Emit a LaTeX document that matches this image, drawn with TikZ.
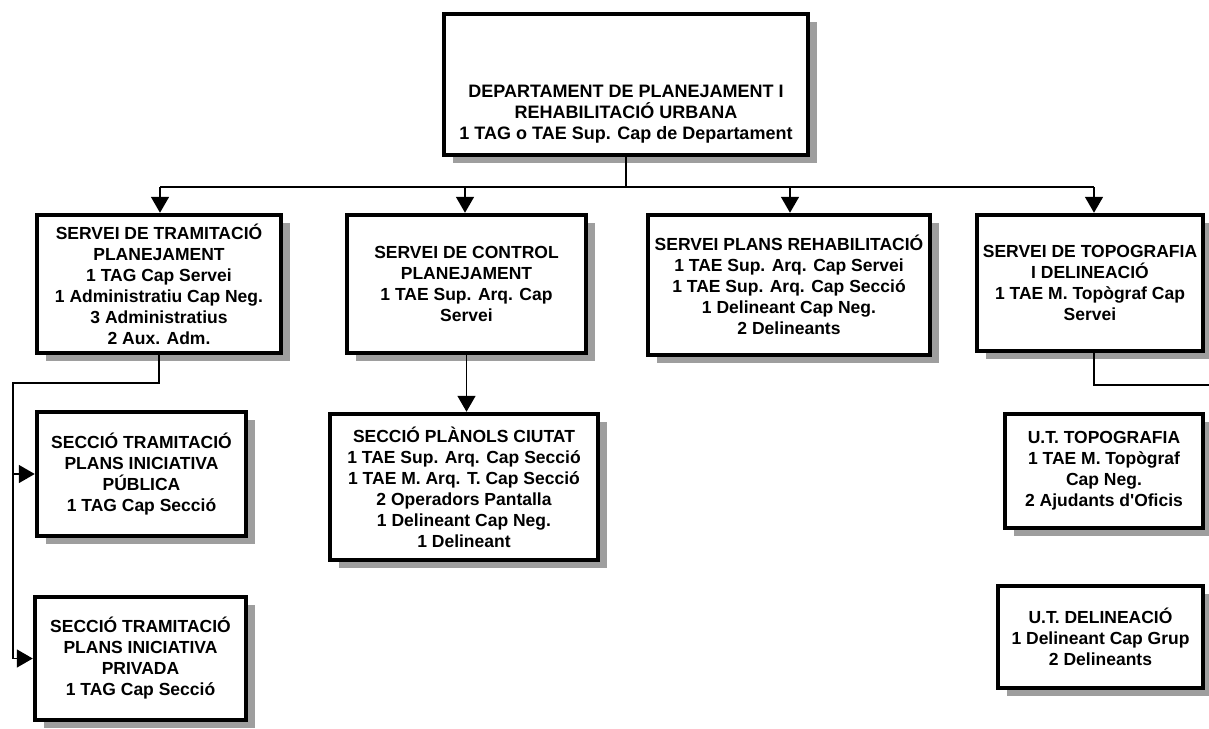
\documentclass[tikz,border=0pt]{standalone}
\usepackage{fontspec}
\setmainfont{Liberation Sans}[Ligatures=TeXOff]
\usetikzlibrary{shadows,arrows.meta}
\begin{document}
\begin{tikzpicture}[x=1pt,y=-1pt,
  box/.style={draw=black, line width=4.5pt, fill=white, inner sep=0pt,
    drop shadow={shadow xshift=9pt, shadow yshift=-8pt, fill=black!38, opacity=1}},
  txt/.style={align=center, font=\bfseries\fontsize{17.5}{21}\selectfont, inner sep=0pt},
  conn/.style={draw=black, line width=1.7pt},
  arr/.style={conn, -{Triangle[length=16pt,width=18pt]}}]
\useasboundingbox (0,0) rectangle (1209,728);
\fill[white] (0,0) rectangle (1209,728);

% top box
\node[box, minimum width=364pt, minimum height=141pt] (top) at (626,84.5) {};
\node[txt, font=\bfseries\fontsize{18}{21}\selectfont] (toptext) at (626,114) {DEPARTAMENT DE PLANEJAMENT I\\REHABILITACIÓ URBANA\\1 TAG o TAE Sup. Cap de Departament};

% services
\node[box, txt, minimum width=244pt, minimum height=138pt] (s1) at (159,284)
  {SERVEI DE TRAMITACIÓ\\PLANEJAMENT\\1 TAG Cap Servei\\1 Administratiu Cap Neg.\\3 Administratius\\2 Aux. Adm.};
\node[box, txt, minimum width=239pt, minimum height=138pt] (s2) at (466.5,284)
  {SERVEI DE CONTROL\\PLANEJAMENT\\1 TAE Sup. Arq. Cap\\Servei};
\node[box, txt, minimum width=282pt, minimum height=140pt] (s3) at (789,285)
  {SERVEI PLANS REHABILITACIÓ\\1 TAE Sup. Arq. Cap Servei\\1 TAE Sup. Arq. Cap Secció\\1 Delineant Cap Neg.\\2 Delineants};
\node[box, txt, minimum width=226pt, minimum height=136pt] (s4) at (1090,283)
  {SERVEI DE TOPOGRAFIA\\I DELINEACIÓ\\1 TAE M. Topògraf Cap\\Servei};

% sections
\node[box, txt, minimum width=209pt, minimum height=124pt] (c1) at (141.5,474)
  {SECCIÓ TRAMITACIÓ\\PLANS INICIATIVA\\PÚBLICA\\1 TAG Cap Secció};
\node[box, txt, minimum width=211pt, minimum height=123pt] (c2) at (140.5,658.5)
  {SECCIÓ TRAMITACIÓ\\PLANS INICIATIVA\\PRIVADA\\1 TAG Cap Secció};
\node[box, txt, minimum width=268pt, minimum height=146pt] (c3) at (464,487)
  {SECCIÓ PLÀNOLS CIUTAT\\1 TAE Sup. Arq. Cap Secció\\1 TAE M. Arq. T. Cap Secció\\2 Operadors Pantalla\\1 Delineant Cap Neg.\\1 Delineant};
\node[box, txt, minimum width=198pt, minimum height=114pt] (u1) at (1104,471)
  {U.T. TOPOGRAFIA\\1 TAE M. Topògraf\\Cap Neg.\\2 Ajudants d'Oficis};
\node[box, txt, minimum width=205pt, minimum height=102pt] (u2) at (1100.5,637)
  {U.T. DELINEACIÓ\\1 Delineant Cap Grup\\2 Delineants};

% bus
\coordinate (b1) at (160,187);
\coordinate (b2) at (465,187);
\coordinate (b3) at (790,187);
\coordinate (b4) at (1094,187);
\draw[conn] (top.south) -- (top.south |- b1);
\draw[conn] (b1) -- (b4);
\draw[arr] (b1) -- (b1 |- s1.north);
\draw[arr] (b2) -- (b2 |- s2.north);
\draw[arr] (b3) -- (b3 |- s3.north);
\draw[arr] (b4) -- (b4 |- s4.north);

% left branch
\coordinate (lc) at (13,383);
\draw[arr] (s1.south) |- (lc) |- (c2.west);
\draw[arr] (lc |- c1.west) -- (c1.west);

% control -> section
\draw[arr] (s2.south) -- (s2.south |- c3.north);

% topography free end
\coordinate (re) at (1209,385);
\draw[conn] (b4 |- s4.south) |- (re);
\end{tikzpicture}
\end{document}
